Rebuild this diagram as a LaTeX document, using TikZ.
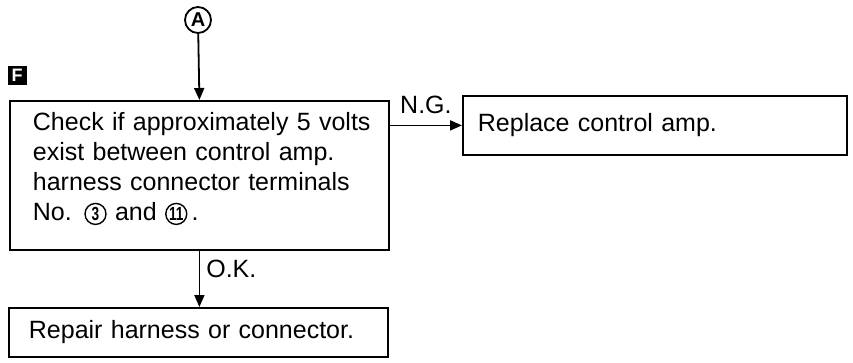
\documentclass[tikz,border=0pt]{standalone}
\usepackage{fontspec}
\setmainfont{Liberation Sans}
\usetikzlibrary{arrows.meta, positioning, calc}
% numero de terminal dentro de um circulo
\newcommand{\terminal}[1]{\tikz[baseline=(t.base)]\node[circle, draw, line width=1.4pt,
  minimum size=21pt, inner sep=0pt, font=\bfseries\fontsize{19}{19}\selectfont] (t)
  {\scalebox{0.72}[1]{#1}};}

\begin{document}
\begin{tikzpicture}[x=1pt, y=-1pt, font=\fontsize{25}{30}\selectfont]
  \tikzset{
    bloco/.style={draw, line width=1.8pt, anchor=north west, align=left,
                  inner ysep=0pt},
    seta/.style={-{Triangle[length=12pt, width=10pt]}, line width=1.8pt},
    rot/.style={inner sep=6pt}}
  \useasboundingbox (0,0) rectangle (853,362);
  % pontos de entrada e rotulo da etapa
  \node[circle, draw, line width=1.8pt, minimum size=26pt, inner sep=0pt,
        font=\bfseries\fontsize{20}{20}\selectfont] (pA) at (198,20) {A};
  \node[fill=black, text=white, minimum size=19pt, inner sep=0pt,
        font=\bfseries\fontsize{18}{18}\selectfont] (etapaF) at (17,75) {F};
  % caixas
  \node[bloco, inner xsep=23pt, text width=333pt, minimum height=149pt] (check) at (9,100)
    {\mbox{Check if approximately 5 volts}\\
     \mbox{exist between control amp.}\\
     \mbox{harness connector terminals}\\
     \mbox{No. \terminal{3} and \terminal{11}\,.}\rule[-18pt]{0pt}{1pt}};
  \node[bloco, inner xsep=15pt, text width=354pt, minimum height=59pt] (replace) at (462,95)
    {Replace control amp.};
  \node[bloco, inner xsep=20pt, text width=339pt, minimum height=49pt] (repair) at (8,307)
    {Repair harness or connector.};
  % ligacoes
  \draw[seta] (pA) -- (check.north);
  \draw[seta] (check.east |- replace.west) --
    node[above, inner sep=11pt] {N.G.} (replace.west);
  \draw[seta] (check.south) --
    node[right, pos=.33, rot] {O.K.} (check.south |- repair.north);
\end{tikzpicture}
\end{document}
